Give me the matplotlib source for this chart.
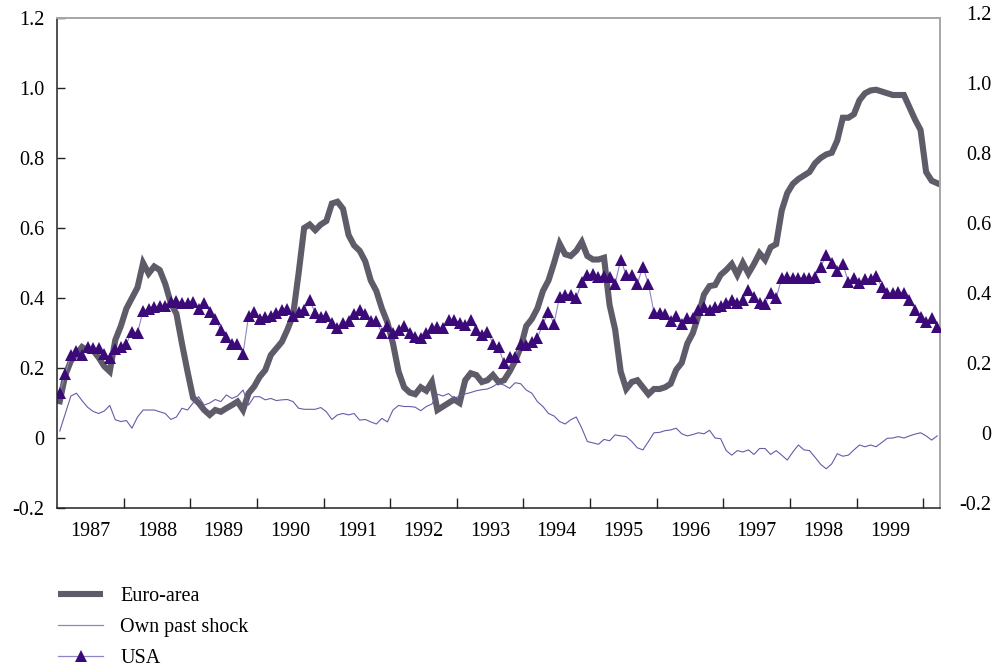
import numpy as np
import matplotlib
matplotlib.use("Agg")
import matplotlib.pyplot as plt
from matplotlib.lines import Line2D
from matplotlib.ticker import FixedLocator, FixedFormatter

plt.rcParams['font.family'] = ['Liberation Serif', 'DejaVu Serif']

# Monthly observations, January 1987 to March 2000
years = ["1987", "1988", "1989", "1990", "1991", "1992", "1993",
         "1994", "1995", "1996", "1997", "1998", "1999"]

euro_area = [
    0.105, 0.18, 0.22, 0.24, 0.26, 0.25, 0.25, 0.23, 0.205, 0.19, 0.28, 0.32,
    0.37, 0.40, 0.43, 0.50, 0.47, 0.49, 0.48, 0.44, 0.385, 0.355, 0.27, 0.19,
    0.115, 0.10, 0.08, 0.066, 0.08, 0.075, 0.085, 0.094, 0.104, 0.08, 0.128, 0.147,
    0.175, 0.194, 0.237, 0.256, 0.275, 0.31, 0.35, 0.47, 0.60, 0.61, 0.594, 0.61,
    0.62, 0.67, 0.675, 0.655, 0.58, 0.55, 0.535, 0.505, 0.45, 0.42, 0.37, 0.33,
    0.27, 0.19, 0.145, 0.13, 0.125, 0.145, 0.135, 0.16, 0.08, 0.09, 0.10, 0.11,
    0.10, 0.165, 0.185, 0.18, 0.16, 0.165, 0.18, 0.16, 0.165, 0.19, 0.22, 0.26,
    0.32, 0.34, 0.37, 0.42, 0.45, 0.50, 0.555, 0.525, 0.52, 0.535, 0.56, 0.52,
    0.51, 0.51, 0.515, 0.38, 0.31, 0.19, 0.14, 0.16, 0.165, 0.145, 0.125, 0.14,
    0.14, 0.145, 0.155, 0.195, 0.215, 0.27, 0.30, 0.35, 0.41, 0.434, 0.437, 0.466,
    0.48, 0.497, 0.466, 0.50, 0.47, 0.497, 0.528, 0.509, 0.545, 0.554, 0.65, 0.70,
    0.726, 0.74, 0.75, 0.76, 0.785, 0.80, 0.81, 0.815, 0.85, 0.915, 0.915, 0.925,
    0.965, 0.985, 0.993, 0.995, 0.99, 0.985, 0.98, 0.98, 0.98, 0.945, 0.91, 0.88,
    0.76, 0.735, 0.728,
]

own_past_shock = [
    0.02, 0.07, 0.12, 0.128, 0.107, 0.088, 0.076, 0.07, 0.077, 0.093, 0.052, 0.047,
    0.05, 0.028, 0.06, 0.08, 0.08, 0.08, 0.075, 0.07, 0.053, 0.06, 0.085, 0.08,
    0.10, 0.118, 0.094, 0.10, 0.11, 0.104, 0.123, 0.113, 0.12, 0.137, 0.094, 0.118,
    0.118, 0.109, 0.113, 0.107, 0.109, 0.11, 0.104, 0.085, 0.082, 0.082, 0.082, 0.087,
    0.075, 0.053, 0.066, 0.07, 0.066, 0.07, 0.051, 0.053, 0.046, 0.04, 0.056, 0.046,
    0.08, 0.093, 0.09, 0.09, 0.088, 0.078, 0.09, 0.097, 0.125, 0.12, 0.127, 0.113,
    0.12, 0.126, 0.13, 0.135, 0.138, 0.14, 0.147, 0.157, 0.151, 0.142, 0.158, 0.155,
    0.137, 0.128, 0.104, 0.09, 0.07, 0.063, 0.047, 0.04, 0.052, 0.06, 0.028, -0.01,
    -0.014, -0.018, -0.004, -0.008, 0.009, 0.006, 0.004, -0.01, -0.028, -0.034, -0.01, 0.015,
    0.016, 0.021, 0.023, 0.028, 0.012, 0.006, 0.01, 0.015, 0.012, 0.022, 0.0, -0.002,
    -0.036, -0.049, -0.036, -0.04, -0.034, -0.047, -0.03, -0.03, -0.047, -0.036, -0.049, -0.063,
    -0.04, -0.02, -0.034, -0.036, -0.055, -0.075, -0.088, -0.074, -0.045, -0.052, -0.049, -0.034,
    -0.02, -0.025, -0.02, -0.025, -0.013, -0.001, 0.0, 0.004, 0.0, 0.006, 0.011, 0.015,
    0.006, -0.006, 0.006,
]

usa = [
    0.13, 0.183, 0.237, 0.25, 0.237, 0.26, 0.256, 0.256, 0.24, 0.23, 0.253, 0.26,
    0.27, 0.304, 0.30, 0.364, 0.368, 0.373, 0.377, 0.377, 0.39, 0.392, 0.385, 0.385,
    0.39, 0.37, 0.387, 0.36, 0.34, 0.31, 0.29, 0.27, 0.27, 0.24, 0.35, 0.36,
    0.34, 0.345, 0.35, 0.357, 0.366, 0.37, 0.35, 0.36, 0.366, 0.394, 0.357, 0.347,
    0.35, 0.33, 0.314, 0.33, 0.333, 0.354, 0.366, 0.354, 0.333, 0.333, 0.30, 0.32,
    0.30, 0.31, 0.32, 0.30, 0.29, 0.285, 0.30, 0.314, 0.316, 0.313, 0.337, 0.337,
    0.33, 0.323, 0.337, 0.309, 0.295, 0.304, 0.27, 0.26, 0.213, 0.232, 0.232, 0.27,
    0.266, 0.275, 0.285, 0.327, 0.36, 0.327, 0.404, 0.41, 0.41, 0.40, 0.446, 0.465,
    0.468, 0.46, 0.462, 0.46, 0.44, 0.51, 0.465, 0.465, 0.44, 0.49, 0.44, 0.358,
    0.356, 0.354, 0.335, 0.348, 0.326, 0.342, 0.342, 0.366, 0.375, 0.367, 0.373, 0.377,
    0.387, 0.394, 0.387, 0.393, 0.423, 0.402, 0.385, 0.383, 0.415, 0.40, 0.456, 0.459,
    0.456, 0.456, 0.456, 0.456, 0.46, 0.488, 0.523, 0.50, 0.478, 0.497, 0.447, 0.456,
    0.442, 0.453, 0.453, 0.463, 0.432, 0.413, 0.413, 0.418, 0.413, 0.394, 0.366, 0.347,
    0.332, 0.342, 0.318,
]

y_ticks = [-0.2, 0.0, 0.2, 0.4, 0.6, 0.8, 1.0, 1.2]
y_labels = ["-0.2", "0", "0.2", "0.4", "0.6", "0.8", "1.0", "1.2"]

FS = 14.5

W, H = 996, 668
fig = plt.figure(figsize=(W / 100, H / 100), dpi=100)
fig.patch.set_facecolor("white")

L, R, T, B = 57, 940, 18, 508
ax = fig.add_axes([L / W, (H - B) / H, (R - L) / W, (B - T) / H])

n = len(euro_area)
x = np.arange(n)

c_euro = "#5f5b68"
c_own = "#6a5aa8"
c_usa_marker = "#3b0a78"
c_usa_line = "#8c86c4"

ax.plot(x, euro_area, color=c_euro, lw=4.4, solid_joinstyle="miter", zorder=2)
ax.plot(x, own_past_shock, color=c_own, lw=0.8, zorder=3)
ax.plot(x, usa, color=c_usa_line, lw=0.8, marker="^", ms=9,
        mfc=c_usa_marker, mec=c_usa_marker, mew=0, zorder=4)

ax.set_xlim(-0.5, n - 0.5)
ax.set_ylim(-0.2, 1.2)

# year boundaries carry tick marks, year names sit between them
ax.xaxis.set_major_locator(FixedLocator([11.5 + 12 * k for k in range(13)]))
ax.xaxis.set_major_formatter(FixedFormatter([""] * 13))
ax.xaxis.set_minor_locator(FixedLocator([5.5 + 12 * k for k in range(len(years))]))
ax.xaxis.set_minor_formatter(FixedFormatter(years))
ax.tick_params(axis="x", which="major", direction="in", length=7, width=1, color="#222222")
ax.tick_params(axis="x", which="minor", length=0, pad=10, labelsize=FS)

ax.yaxis.set_major_locator(FixedLocator(y_ticks))
ax.yaxis.set_major_formatter(FixedFormatter(y_labels))
ax.tick_params(axis="y", direction="in", length=6, width=1, color="#222222",
               pad=9, labelsize=FS)

for side in ("left", "bottom"):
    ax.spines[side].set_color("#222222")
    ax.spines[side].set_linewidth(1.1)
for side in ("top", "right"):
    ax.spines[side].set_color("#a6a6a6")
    ax.spines[side].set_linewidth(1.4)

# secondary value scale on the right
ax2 = fig.add_axes([L / W, (H - B + 5) / H, (R - L) / W, (B - T) / H])
ax2.patch.set_visible(False)
for s in ax2.spines.values():
    s.set_visible(False)
ax2.set_xticks([])
ax2.set_ylim(-0.2, 1.2)
ax2.yaxis.tick_right()
ax2.yaxis.set_major_locator(FixedLocator(y_ticks))
ax2.yaxis.set_major_formatter(FixedFormatter(y_labels))
ax2.tick_params(axis="y", length=0, pad=37, labelsize=FS)
for lab in ax2.get_yticklabels():
    lab.set_horizontalalignment("right")

handles = [
    Line2D([], [], color=c_euro, lw=4.4, solid_capstyle="butt"),
    Line2D([], [], color="#8f86c6", lw=0.9),
    Line2D([], [], color="#8f86c6", lw=0.9, marker="^", ms=9,
           mfc=c_usa_marker, mec=c_usa_marker, mew=0),
]
fig.legend(handles, ["Euro-area", "Own past shock", "USA"],
           loc="upper left", bbox_to_anchor=(58 / W, (H - 587) / H),
           frameon=False, fontsize=FS, handlelength=2.25, handletextpad=0.85,
           labelspacing=0.58, borderpad=0, borderaxespad=0, numpoints=1)

fig.savefig("out.png", dpi=100, facecolor="white")
